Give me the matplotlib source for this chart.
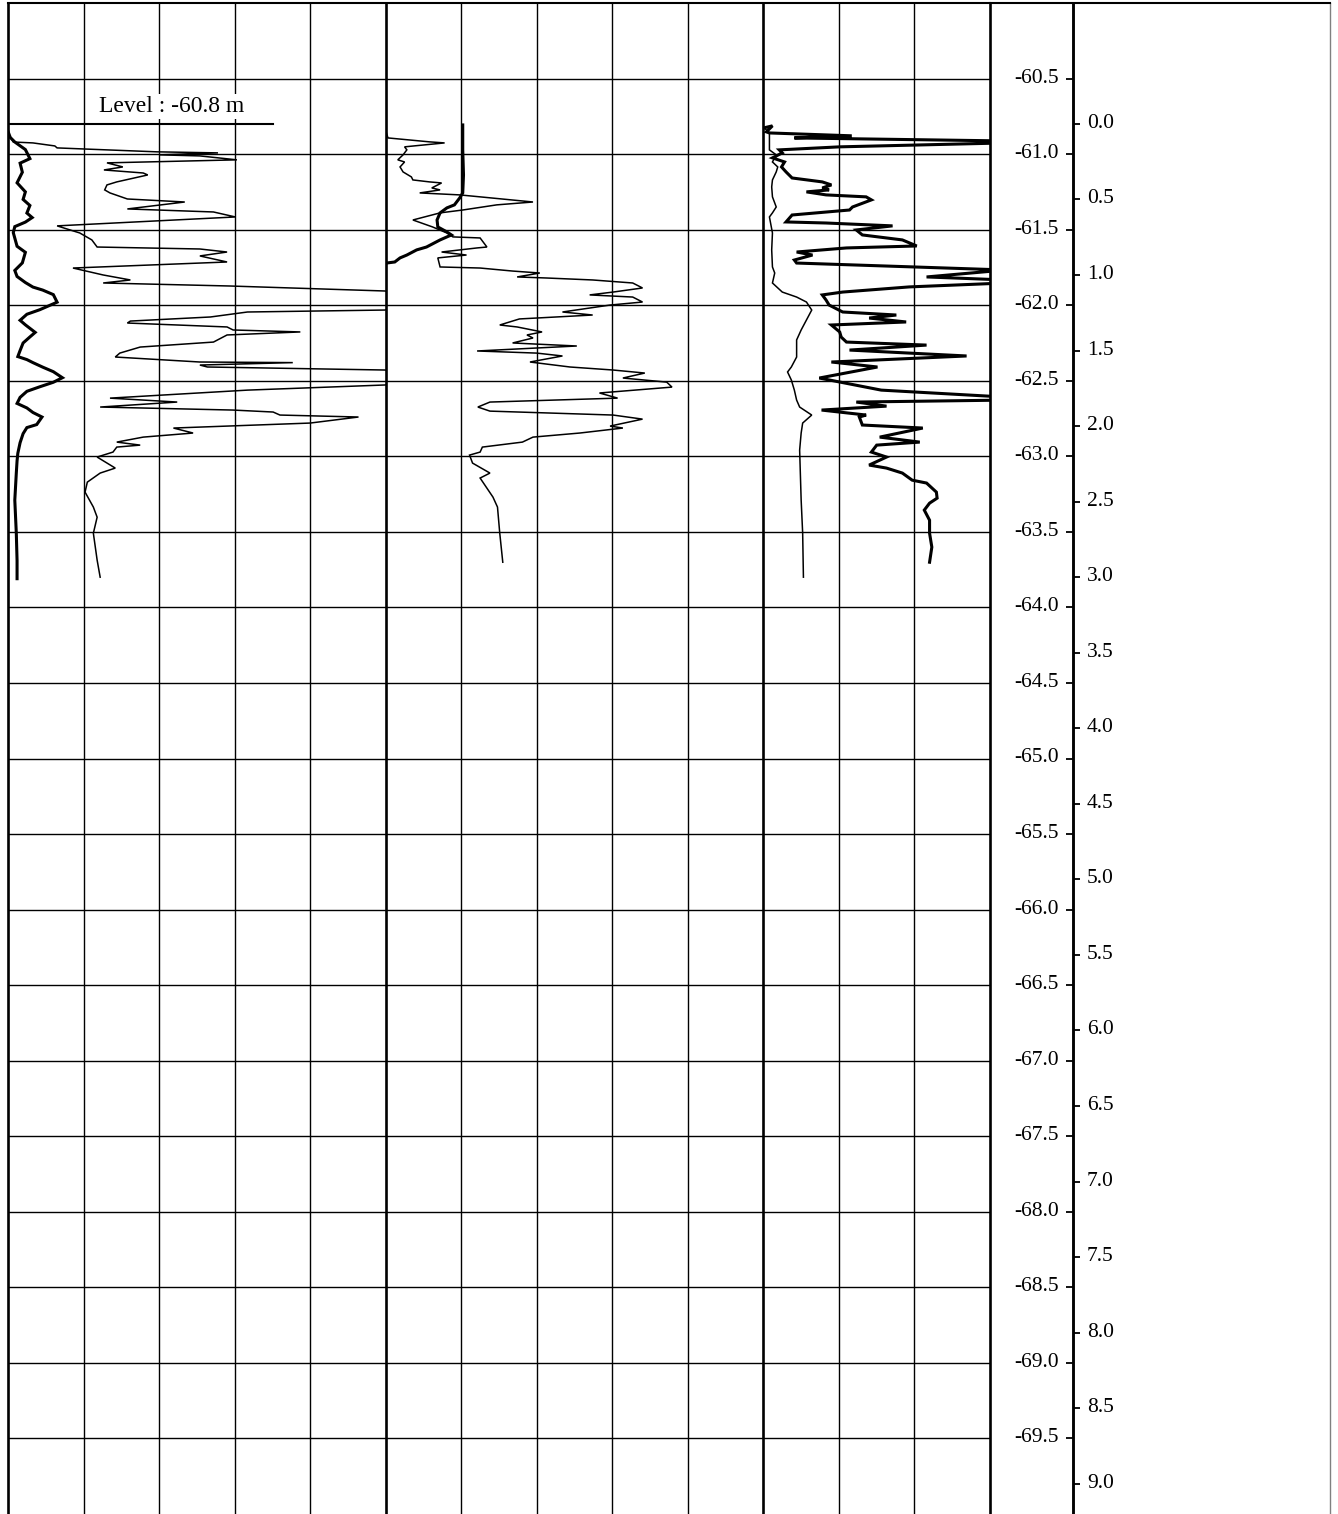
import numpy as np
import matplotlib
matplotlib.use('Agg')
import matplotlib.pyplot as plt
import matplotlib.transforms as mtransforms
from matplotlib.patches import Rectangle

plt.rcParams['font.family'] = ['Liberation Serif', 'DejaVu Serif']

# ---------------- data ----------------
LEVEL = -60.8                      # m, top of the test
ELEV_TICKS = [-60.5, -61.0, -61.5, -62.0, -62.5, -63.0, -63.5, -64.0, -64.5, -65.0,
              -65.5, -66.0, -66.5, -67.0, -67.5, -68.0, -68.5, -69.0, -69.5]
DEPTH_TICKS = [0.0, 0.5, 1.0, 1.5, 2.0, 2.5, 3.0, 3.5, 4.0, 4.5,
               5.0, 5.5, 6.0, 6.5, 7.0, 7.5, 8.0, 8.5, 9.0]
PANEL_EDGES = [0, 5, 10, 13]       # grid divisions of the three log tracks

# track A, thick trace (depth m, value in divisions)
a_thick_depth = [0.05, 0.09, 0.12, 0.17, 0.23, 0.26, 0.32, 0.39, 0.45, 0.50, 0.54, 0.59, 0.62, 0.65, 0.68,
                 0.72, 0.81, 0.85, 0.92, 0.97, 1.01, 1.05, 1.08, 1.10, 1.13, 1.18, 1.23, 1.26, 1.30, 1.33,
                 1.38, 1.41, 1.45, 1.50, 1.54, 1.56, 1.58, 1.61, 1.64, 1.68, 1.71, 1.74, 1.77, 1.81, 1.85,
                 1.88, 1.91, 1.94, 1.99, 2.01, 2.05, 2.11, 2.18, 2.23, 2.31, 2.49, 2.71, 2.89, 3.01]
a_thick_val = [0.00, 0.03, 0.09, 0.23, 0.29, 0.16, 0.19, 0.12, 0.23, 0.20, 0.29, 0.25, 0.32, 0.23, 0.09,
               0.07, 0.12, 0.23, 0.19, 0.09, 0.12, 0.23, 0.33, 0.46, 0.60, 0.65, 0.42, 0.25, 0.16, 0.23,
               0.36, 0.29, 0.20, 0.16, 0.13, 0.25, 0.33, 0.46, 0.60, 0.72, 0.60, 0.42, 0.25, 0.16, 0.12,
               0.25, 0.33, 0.45, 0.38, 0.25, 0.20, 0.16, 0.13, 0.12, 0.11, 0.09, 0.11, 0.12, 0.12]

# track A, thin trace
a_thin_depth = [0.06, 0.12, 0.126, 0.146, 0.159, 0.166, 0.185, 0.192, 0.205, 0.212, 0.238, 0.258, 0.285,
                0.305, 0.325, 0.338, 0.384, 0.404, 0.437, 0.457, 0.497, 0.517, 0.563, 0.583, 0.616, 0.675,
                0.722, 0.768, 0.815, 0.828, 0.848, 0.874, 0.914, 0.954, 1.000, 1.033, 1.053, 1.073, 1.106,
                1.17, 1.232, 1.245, 1.278, 1.305, 1.318, 1.344, 1.364, 1.377, 1.397, 1.444, 1.477, 1.517,
                1.543, 1.576, 1.58, 1.596, 1.609, 1.629, 1.68, 1.728, 1.762, 1.815, 1.841, 1.874, 1.894,
                1.907, 1.927, 1.940, 1.980, 2.013, 2.046, 2.073, 2.106, 2.126, 2.139, 2.172, 2.205, 2.278,
                2.311, 2.371, 2.437, 2.536, 2.603, 2.709, 2.887, 3.000]
a_thin_val = [0.00, 0.07, 0.33, 0.62, 0.65, 1.00, 1.97, 2.78, 2.01, 2.54, 3.03, 1.31, 1.52,
              1.27, 1.79, 1.85, 1.44, 1.31, 1.28, 1.35, 1.58, 2.34, 1.58, 2.72, 3.01, 0.65,
              0.95, 1.11, 1.18, 2.54, 2.90, 2.54, 2.90, 0.86, 1.26, 1.62, 1.26, 2.94, 4.99,
              5.60, 4.99, 3.17, 2.68, 1.62, 1.58, 2.90, 2.98, 3.87, 2.90, 2.72, 1.75, 1.48,
              1.42, 2.54, 3.77, 2.54, 2.64, 4.99, 5.60, 4.99, 3.17, 1.35, 2.24, 1.22, 2.98,
              3.51, 3.60, 4.64, 4.00, 2.19, 2.45, 1.79, 1.44, 1.75, 1.44, 1.39, 1.18, 1.42,
              1.22, 1.05, 1.02, 1.13, 1.18, 1.13, 1.18, 1.22]

# track B, thick trace
b_thick_depth = [0.007, 0.172, 0.338, 0.457, 0.490, 0.536, 0.556, 0.589, 0.636, 0.682, 0.715, 0.735,
                 0.768, 0.815, 0.834, 0.868, 0.887, 0.914, 0.921]
b_thick_val = [1.02, 1.02, 1.03, 1.02, 0.98, 0.91, 0.81, 0.72, 0.68, 0.69, 0.81, 0.87,
               0.72, 0.54, 0.41, 0.28, 0.19, 0.12, 0.01]

# track B, thin trace
b_thin_depth = [0.060, 0.093, 0.119, 0.126, 0.152, 0.172, 0.205, 0.238, 0.252, 0.285, 0.318, 0.351, 0.371,
                0.384, 0.391, 0.424, 0.437, 0.457, 0.470, 0.483, 0.517, 0.536, 0.570, 0.589, 0.636, 0.682,
                0.722, 0.748, 0.755, 0.815, 0.821, 0.848, 0.868, 0.887, 0.947, 0.954, 0.974, 0.987, 1.013,
                1.020, 1.033, 1.053, 1.086, 1.113, 1.132, 1.146, 1.179, 1.199, 1.245, 1.265, 1.291, 1.331,
                1.344, 1.377, 1.397, 1.417, 1.450, 1.470, 1.503, 1.517, 1.536, 1.576, 1.609, 1.629, 1.649,
                1.682, 1.709, 1.742, 1.781, 1.815, 1.841, 1.874, 1.901, 1.927, 1.954, 2.000, 2.013, 2.046,
                2.073, 2.106, 2.139, 2.172, 2.192, 2.245, 2.311, 2.344, 2.470, 2.536, 2.709, 2.901]
b_thin_val = [0.01, 0.03, 0.58, 0.78, 0.25, 0.28, 0.23, 0.16, 0.25, 0.19, 0.23, 0.34, 0.36,
              0.58, 0.74, 0.61, 0.72, 0.45, 0.98, 1.25, 1.95, 1.47, 1.02, 0.72, 0.36, 0.62,
              0.81, 0.89, 1.25, 1.34, 1.21, 0.74, 1.07, 0.69, 0.72, 1.25, 1.68, 2.04, 1.74,
              2.13, 2.74, 3.27, 3.40, 3.01, 2.70, 3.27, 3.40, 2.97, 2.34, 2.74, 1.77, 1.51,
              1.74, 2.07, 1.87, 1.95, 1.68, 2.53, 1.21, 2.00, 2.34, 1.91, 2.44, 3.01, 3.43,
              3.14, 3.72, 3.79, 2.83, 3.07, 1.38, 1.22, 1.38, 3.01, 3.40, 2.97, 3.14, 2.57,
              1.95, 1.81, 1.28, 1.25, 1.11, 1.15, 1.38, 1.25, 1.42, 1.48, 1.51, 1.55]

# track C, thin trace
c_thin_depth = [0.026, 0.060, 0.172, 0.205, 0.252, 0.285, 0.318, 0.371, 0.417, 0.483, 0.550, 0.589, 0.616,
                0.722, 0.834, 0.947, 0.987, 1.053, 1.113, 1.146, 1.179, 1.232, 1.364, 1.430, 1.543, 1.609,
                1.642, 1.695, 1.762, 1.828, 1.874, 1.927, 1.980, 2.046, 2.159, 2.490, 2.709, 3.000]
c_thin_val = [0.01, 0.08, 0.08, 0.17, 0.12, 0.19, 0.17, 0.12, 0.11, 0.12, 0.17, 0.12, 0.08,
              0.12, 0.11, 0.12, 0.15, 0.12, 0.25, 0.44, 0.57, 0.64, 0.50, 0.44, 0.44, 0.37,
              0.32, 0.37, 0.41, 0.44, 0.48, 0.64, 0.52, 0.50, 0.48, 0.50, 0.52, 0.53]

# track C, thick trace
c_thick_depth = [0.026, 0.013, 0.053, 0.060, 0.079, 0.093, 0.113, 0.126, 0.152, 0.172, 0.192, 0.225, 0.252,
                 0.285, 0.318, 0.358, 0.384, 0.404, 0.424, 0.437, 0.450, 0.470, 0.483, 0.503, 0.550, 0.570,
                 0.603, 0.649, 0.656, 0.675, 0.702, 0.735, 0.768, 0.808, 0.821, 0.848, 0.868, 0.901, 0.921,
                 0.967, 1.013, 1.033, 1.053, 1.079, 1.113, 1.132, 1.166, 1.199, 1.245, 1.265, 1.285, 1.311,
                 1.331, 1.377, 1.411, 1.444, 1.464, 1.497, 1.536, 1.576, 1.609, 1.682, 1.762, 1.808, 1.828,
                 1.841, 1.868, 1.894, 1.927, 1.940, 1.993, 2.013, 2.073, 2.106, 2.126, 2.172, 2.205, 2.258,
                 2.278, 2.311, 2.358, 2.377, 2.437, 2.477, 2.510, 2.556, 2.623, 2.709, 2.801, 2.901]
c_thick_val = [0.01, 0.12, 0.04, 0.08, 1.17, 0.41, 3.20, 3.20, 1.01, 0.21, 0.25, 0.12, 0.28,
               0.24, 0.30, 0.38, 0.78, 0.90, 0.78, 0.87, 0.57, 0.83, 1.36, 1.43, 1.18, 1.14,
               0.38, 0.30, 0.83, 1.71, 1.23, 1.31, 1.84, 2.03, 1.10, 0.44, 0.65, 0.41, 0.44,
               3.20, 2.16, 3.20, 3.20, 1.93, 1.05, 0.78, 0.83, 0.87, 1.05, 1.76, 1.40, 1.89,
               0.90, 1.01, 1.03, 1.10, 2.16, 1.14, 2.69, 0.90, 1.51, 0.74, 1.56, 3.20, 3.20,
               1.23, 1.63, 0.77, 1.36, 1.27, 1.31, 2.11, 1.54, 2.07, 1.50, 1.43, 1.63, 1.40,
               1.63, 1.84, 1.97, 2.16, 2.29, 2.30, 2.20, 2.13, 2.20, 2.20, 2.23, 2.20]

# ---------------- figure ----------------
W, H = 1338, 1514
fig = plt.figure(figsize=(W / 100, H / 100), dpi=100)

# depth / elevation scale (drawn first, transparent, so the track border stays visible)
ax2 = fig.add_axes([990 / W, 0, 340 / W, 1511 / H])
ax2.patch.set_visible(False)
ax2.set_xlim(0, 1)
ax2.set_ylim(-70.0, -60.0)
ax2.set_xticks([])
ax2.spines['bottom'].set_visible(False)
ax2.spines['top'].set_linewidth(1.5)
ax2.spines['right'].set_color('#808080')
ax2.spines['right'].set_linewidth(1.0)
ax2.spines['left'].set_position(('axes', 83 / 340))
ax2.spines['left'].set_linewidth(1.8)
ax2.yaxis.set_ticks_position('left')
ax2.set_yticks(ELEV_TICKS)
ax2.set_yticklabels([f'{v:.1f}' for v in ELEV_TICKS])
ax2.tick_params(axis='y', direction='out', length=5, width=1.3, pad=5, labelsize=15.5)

ax3 = ax2.twinx()
ax3.patch.set_visible(False)
ax3.set_ylim(LEVEL - (-70.0), LEVEL - (-60.0))
for s in ['left', 'top', 'bottom']:
    ax3.spines[s].set_visible(False)
ax3.spines['right'].set_position(('axes', 83 / 340))
ax3.spines['right'].set_linewidth(1.8)
ax3.set_yticks(DEPTH_TICKS)
ax3.set_yticklabels([f'{v:.1f}' for v in DEPTH_TICKS])
ax3.tick_params(axis='y', direction='out', length=5, width=1.3, pad=5, labelsize=15.5)

up = mtransforms.ScaledTranslation(0, 3 / 100, fig.dpi_scale_trans)
for lab in ax2.get_yticklabels() + ax3.get_yticklabels():
    lab.set_transform(lab.get_transform() + up)

# log tracks
ax = fig.add_axes([8 / W, 0, 982 / W, 1511 / H])
ax.set_xlim(PANEL_EDGES[0], PANEL_EDGES[-1])
ax.set_ylim(-70.0, -60.0)
ax.set_xticks([])
ax.set_yticks([])
ax.spines['bottom'].set_visible(False)
ax.spines['left'].set_linewidth(1.9)
ax.spines['right'].set_linewidth(1.9)
ax.spines['top'].set_linewidth(1.5)

for e in ELEV_TICKS:
    ax.axhline(e, color='black', lw=1.0, zorder=1)
for x in range(PANEL_EDGES[0] + 1, PANEL_EDGES[-1]):
    ax.axvline(x, color='black', lw=1.9 if x in PANEL_EDGES else 1.0, zorder=1)


def draw(vals, depth, p, lw):
    left, right = PANEL_EDGES[p], PANEL_EDGES[p + 1]
    line, = ax.plot(np.asarray(vals) + left, LEVEL - np.asarray(depth),
                    color='black', lw=lw, zorder=3, solid_joinstyle='miter')
    clip = Rectangle((left, -70.0), right - left, 10.0, transform=ax.transData)
    line.set_clip_path(clip)


draw(a_thin_val, a_thin_depth, 0, 1.1)
draw(a_thick_val, a_thick_depth, 0, 2.2)
draw(b_thin_val, b_thin_depth, 1, 1.1)
draw(b_thick_val, b_thick_depth, 1, 2.2)
draw(c_thin_val, c_thin_depth, 2, 1.1)
draw(c_thick_val, c_thick_depth, 2, 2.2)

ax.plot([0, 3.51], [LEVEL, LEVEL], color='black', lw=1.5, zorder=4)
ax.text(1.2, -60.72, 'Level : -60.8 m', fontsize=17, ha='left', va='baseline',
        bbox=dict(facecolor='white', edgecolor='none', pad=1.5), zorder=5)

fig.savefig('out.png', dpi=100)
